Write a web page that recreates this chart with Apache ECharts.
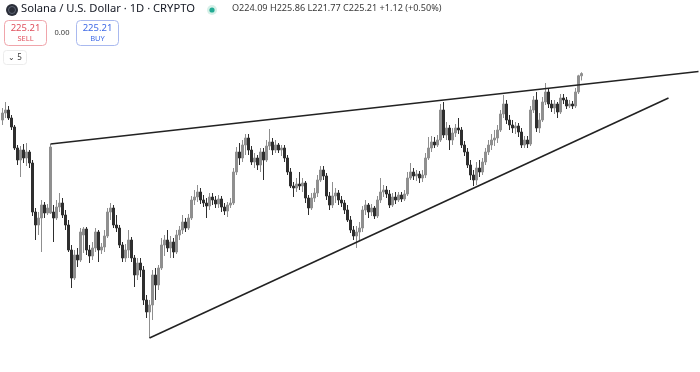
<!DOCTYPE html>
<html>
<head>
<meta charset="utf-8">
<script src="https://cdn.jsdelivr.net/npm/echarts@6/dist/echarts.min.js"></script>
<style>
html,body{margin:0;padding:0;background:#fff;}
#c{width:700px;height:372px;}
</style>
</head>
<body>
<div id="c"></div>
<script>
var opens = [202,205.5,207,203,198.5,188,182,187,183,186, 180.5,156,149.5,153,159.5,155.5,155.5,156,153,158.5, 160.5,154.5,149.5,137,123,134.5,132,144.5,147.5,137, 134,138,146,137,138.5,144,156,158,149.5,148, 139.5,133,137,142,133,124.5,130.5,127,112,106, 109.5,124.5,119.5,128,139.5,142,138,141,136,144.5, 147,151,148,153,162,163.5,166,162,160.5,159, 163.5,162,160,162.5,158.5,156.5,159.5,160.5,176,186, 183,189.5,193,187,181,183,179.5,186,182,189, 191,187,189.5,187,188,183,176,169,168,170, 169,170.5,163,158,163,165.5,172,177,174,164, 159.5,164,165.5,162,160.5,157,152,147,144,146, 148,157,159.5,156,158,154,162,166,167,165, 159.5,163.5,162,164.5,162.5,165,173,176,174,175, 173,174.5,183,188,191,189.5,192,207,194.5,198, 192,195.5,198,197,189.5,186,179.5,174.5,172,178, 176,181,186,189.5,192,193,197,205,210,202, 199.5,198,199,196,189.5,192,190,207,212,198, 202,211,216,210,208,210,206,213,212,209, 210,209,216,224.09];
var closes = [205.5,207,203,198.5,188,182,187,183,186,180.5, 156,149.5,153,159.5,155.5,158,188.5,153,158.5,160.5, 154.5,149.5,137,123,134.5,132,146,147.5,137,134, 138,146,137,138.5,144,156,158,149.5,148,139.5, 133,137,142,133,124.5,130.5,127,112,106,109.5, 124.5,119.5,128,139.5,142,138,141,136,144.5,147, 151,148,153,162,163.5,166,162,160.5,159,163.5, 162,160,162.5,158.5,156.5,159.5,160.5,176,186,183, 189.5,193,187,181,183,179.5,186,182,189,191, 187,189.5,187,188,183,176,169,168,170,169, 170.5,163,158,163,165.5,172,177,174,164,159.5, 164,165.5,162,160.5,157,152,147,144,146,148, 157,159.5,156,158,154,162,166,167,165,159.5, 163.5,162,164.5,162.5,165,173,176,174,175,173, 174.5,183,188,191,189.5,192,207,194.5,198,192, 195.5,198,197,189.5,186,179.5,174.5,172,178,176, 181,186,189.5,192,193,197,205,210,202,199.5, 198,199,196,189.5,192,190,207,212,198,202, 211,216,210,208,210,206,213,212,209,210, 209,216,224.09,225.21];
var highs = [208,211,209,204.5,199.5,189.5,189,190,190.5,187, 182,158,156,162,161,160,190,159.5,162,165.5, 163,157,152,139.5,137,138,148,148.5,148.5,139.5, 141,148,147,140.5,147,158,160.5,159.5,154.5,149.5, 141,140,147,143.5,134.5,133,133,129,114.5,112, 127,128,129.5,143,144.5,147,144,143,147,149, 154.5,153,155,164,167,169.5,168,164.5,163,165.5, 165.5,164,164.5,164,160.5,161,163,178,188.5,190.5, 192,195,195,189,185.5,184.5,188,188,192,197.5, 193,192,190.5,189.5,189.5,184.5,178,171,173,176, 173,171.5,164.5,165.5,168,174.5,179,179,175.5,166, 171,168,167,164,162,159.5,154,149,149,151, 159,162,160.5,160,159,164,173,169.5,169,167, 165.5,166,166,166,167,176,180.5,178,177,176.5, 177,185.5,193.5,194,193.5,194.5,210,211,201,199.5, 198,200,203,198.5,191.5,188,182,177,181,182, 183,188,192,195,197,199.5,207,214.5,212,204.5, 202,201,200.5,198,194,194,209,214,216,205.5, 213.5,220.5,217.5,212,212,211,215,215,213.5,212, 211.5,218,224.6,225.86];
var lows = [199.5,203,202,197,187,179.5,173.5,180.5,179,178, 154,142,144.5,136,153,154.5,155,141,152,156, 153,147,136,118,122,128.5,131,135.5,134.5,130.5, 132,136,131,135,136,143,152,148,146,138, 131,131,133,131,118.5,122,123.5,109.5,103,93, 102,112,117,127,134,136,133,133,135,142, 145,146,147,152,159.5,161,160,158.5,153,157, 159.5,158,158,156,154.5,153.5,158,159.5,174.5,179.5, 181,184.5,184.5,179.5,178,177,176,172,181,187, 184.5,185.5,185.5,184,181,174.5,168,163.5,166,167, 166,160.5,154.5,157,161,163.5,171,172,162,157, 158,160.5,159.5,158.5,155,151,145.5,142,138,142, 146,154.5,153,154,152.5,153,160.5,163.5,163,158, 158.5,160,161,161,161.5,164,172,172,171.5,170.5, 171,173,182,186,188,188.5,191,193,192,187, 189.5,193.5,195,188,184,178,172,169,169.5,173.5, 174.5,179.5,184.5,187,189,190.5,196,203,200,197, 195.5,195,193.5,188,188,188,189,205.5,196,195.5, 201,209.5,208,206,205,203,205,210,207.5,208, 207.5,208,215,221.77];
// Trend lines: [candle index, price]
var upperLine = [[16, 190], [232, 226.25]];
var lowerLine = [[49, 93], [222, 213]];
var barCount = 233; // daily slots incl. empty space to the right
var headerTitle = 'Solana / U.S. Dollar · 1D · CRYPTO';
var ohlcText = 'O224.09 H225.86 L221.77 C225.21 +1.12 (+0.50%)';
var sellPrice = '225.21', buyPrice = '225.21', spread = '0.00';

var categories = [];
for (var k = 0; k < barCount; k++) categories.push('D' + (k + 1));
var candles = opens.map(function (o, i) { return [o, closes[i], lows[i], highs[i]]; });

var chart = echarts.init(document.getElementById('c'), null, {renderer: 'canvas'});
var font = '"Noto Sans", "Open Sans", sans-serif';
chart.setOption({
  animation: false,
  backgroundColor: '#ffffff',
  grid: {left: 1, right: 0, top: 60, bottom: 12},
  xAxis: {type: 'category', data: categories, show: false, boundaryGap: true},
  yAxis: {type: 'value', min: 82, max: 232, show: false},
  series: [
    {
      type: 'candlestick', data: candles, barWidth: 2,
      itemStyle: {color: '#8f8f8f', color0: '#2e2e2e', borderColor: '#8f8f8f', borderColor0: '#2e2e2e', borderWidth: 1}
    },
    {type: 'line', data: upperLine, symbol: 'none', lineStyle: {color: '#222222', width: 1.6}, z: 5},
    {type: 'line', data: lowerLine, symbol: 'none', lineStyle: {color: '#222222', width: 1.6}, z: 5}
  ],
  graphic: [
    {type: 'circle', shape: {cx: 12, cy: 10, r: 6}, style: {fill: '#2a2e39'}},
    {type: 'circle', shape: {cx: 12, cy: 10, r: 3.5}, style: {fill: 'none', stroke: '#5d6473', lineWidth: 1}},
    {type: 'text', left: 21, top: 3, style: {text: headerTitle, font: '11.2px ' + font, fill: '#131722'}},
    {type: 'circle', shape: {cx: 212, cy: 10, r: 5}, style: {fill: '#d6f0e8'}},
    {type: 'circle', shape: {cx: 212, cy: 10, r: 2.6}, style: {fill: '#22ab94'}},
    {type: 'text', left: 232, top: 4, style: {text: ohlcText, font: '9.1px ' + font, fill: '#3a3a3a'}},
    {type: 'rect', shape: {x: 4.5, y: 20.5, width: 42, height: 25, r: 4}, style: {fill: '#fff', stroke: '#f0a5ab', lineWidth: 1}},
    {type: 'text', x: 25.5, y: 28, style: {text: sellPrice, font: '9.5px ' + font, fill: '#e0505d', align: 'center', verticalAlign: 'middle'}},
    {type: 'text', x: 25.5, y: 38.5, style: {text: 'SELL', font: '7.5px ' + font, fill: '#e0505d', align: 'center', verticalAlign: 'middle'}},
    {type: 'text', x: 62, y: 33, style: {text: spread, font: '7.5px ' + font, fill: '#3a3a3a', align: 'center', verticalAlign: 'middle'}},
    {type: 'rect', shape: {x: 76.5, y: 20.5, width: 42, height: 25, r: 4}, style: {fill: '#fff', stroke: '#a9b9ef', lineWidth: 1}},
    {type: 'text', x: 97.5, y: 28, style: {text: buyPrice, font: '9.5px ' + font, fill: '#3f6ae6', align: 'center', verticalAlign: 'middle'}},
    {type: 'text', x: 97.5, y: 38.5, style: {text: 'BUY', font: '7.5px ' + font, fill: '#3f6ae6', align: 'center', verticalAlign: 'middle'}},
    {type: 'rect', shape: {x: 3.5, y: 50.5, width: 23, height: 14, r: 3}, style: {fill: '#fff', stroke: '#ececec', lineWidth: 1}},
    {type: 'text', x: 15, y: 57.5, style: {text: '\u2304 5', font: '8px ' + font, fill: '#3a3a3a', align: 'center', verticalAlign: 'middle'}}
  ]
});
</script>
</body>
</html>
